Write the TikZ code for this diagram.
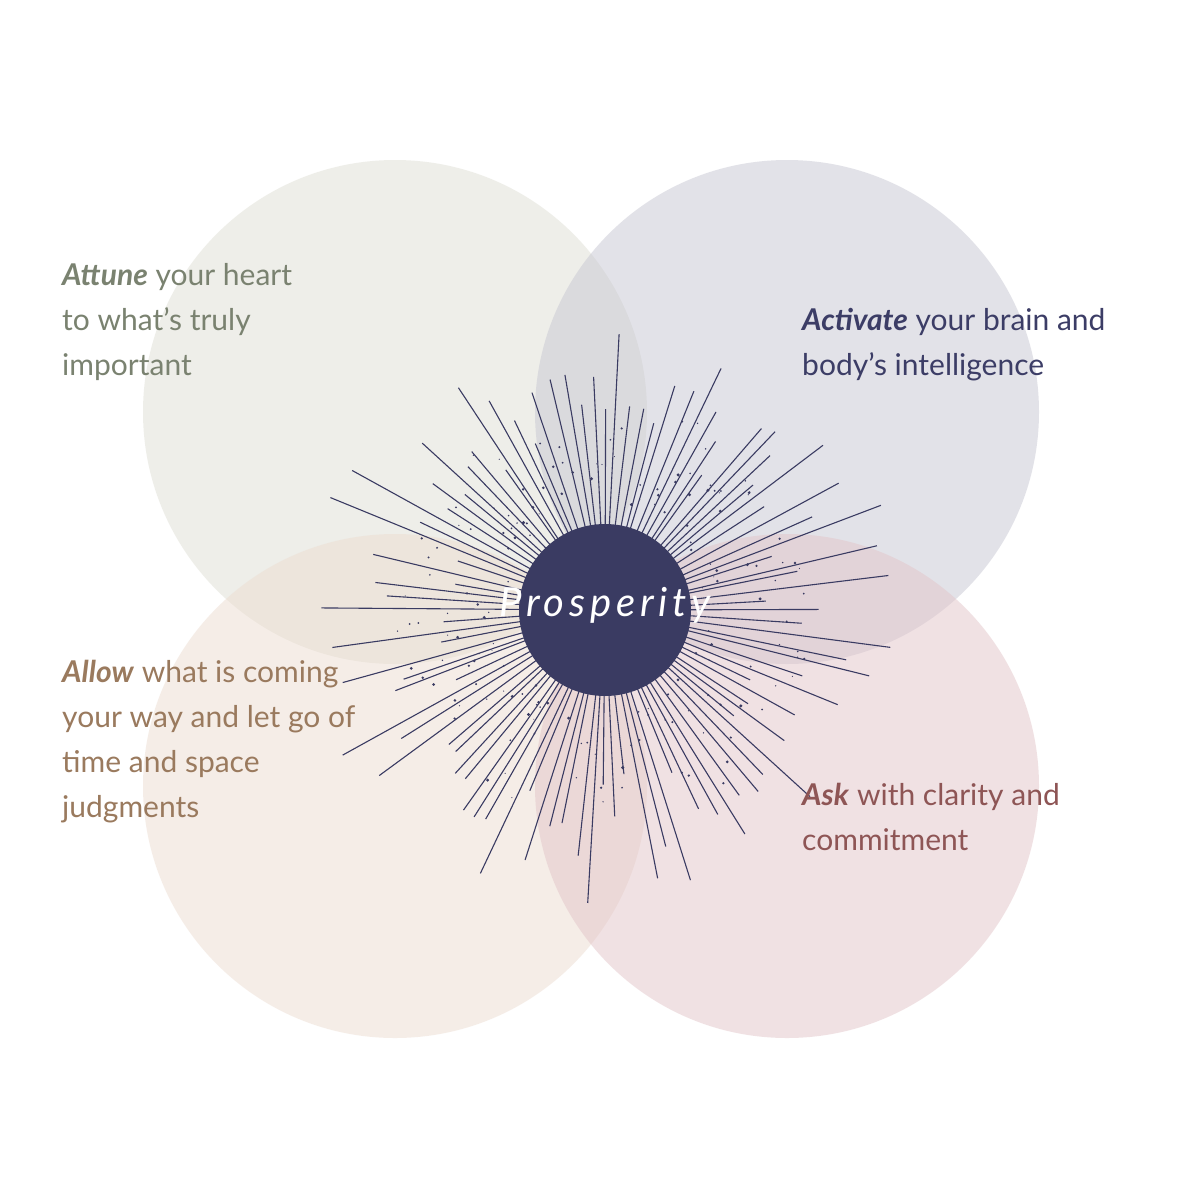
\documentclass[tikz,border=0pt]{standalone}
\usepackage{fontspec}
\setmainfont{Lato}
\newfontfamily\prosfont[LetterSpace=12]{Lato}
\definecolor{cTL}{RGB}{223,223,213}
\definecolor{cTR}{RGB}{199,199,211}
\definecolor{cBL}{RGB}{237,221,209}
\definecolor{cBR}{RGB}{227,197,201}
\definecolor{tA}{RGB}{122,130,112}
\definecolor{tB}{RGB}{60,61,102}
\definecolor{tC}{RGB}{154,122,94}
\definecolor{tD}{RGB}{142,85,85}
\definecolor{dark}{RGB}{58,59,98}
\tikzset{circ/.style={fill opacity=0.5,draw=none},
lbl/.style={anchor=base west,align=left,font=\fontsize{30}{45}\selectfont,inner sep=0pt}}
\begin{document}
\begin{tikzpicture}[x=1pt,y=-1pt]
\useasboundingbox (0,0) rectangle (1200,1200);
\fill[white] (0,0) rectangle (1200,1200);
\fill[circ,cTL] (395,412) circle[radius=252];
\fill[circ,cTR] (787,412) circle[radius=252];
\fill[circ,cBL] (395,786) circle[radius=252];
\fill[circ,cBR] (787,786) circle[radius=252];
\coordinate (c) at (605,610);
\pgfmathsetseed{7}
\foreach \i in {0,...,99}{
  \pgfmathsetmacro{\a}{\i*3.6+rand*1.2}
  \pgfmathsetmacro{\l}{200+rnd*100+(\i-2*int(\i/2))*(-50)}
  \draw[dark,line width=1.1pt] (c) -- ++(\a:\l);
}
\foreach \i in {0,...,160}{
  \pgfmathsetmacro{\a}{rnd*360}
  \pgfmathsetmacro{\r}{100+rnd*110}
  \fill[dark] (c) ++(\a:\r) circle[radius=0.5+rnd*1.2];
}
\fill[dark] (c) circle[radius=86];
\node[white,font=\prosfont\itshape\fontsize{40}{40}\selectfont] (p) at (605,605) {Prosperity};
\node[lbl,tA] (t1) at (62,375) {\textbf{\textit{Attune}} your heart\\to what’s truly\\important};
\node[lbl,tB] (t2) at (802,375) {\textbf{\textit{Activate}} your brain and\\body’s intelligence};
\node[lbl,tC] (t3) at (62,817) {\textbf{\textit{Allow}} what is coming\\your way and let go of\\time and space\\judgments};
\node[lbl,tD] (t4) at (802,850) {\textbf{\textit{Ask}} with clarity and\\commitment};
\end{tikzpicture}
\end{document}
